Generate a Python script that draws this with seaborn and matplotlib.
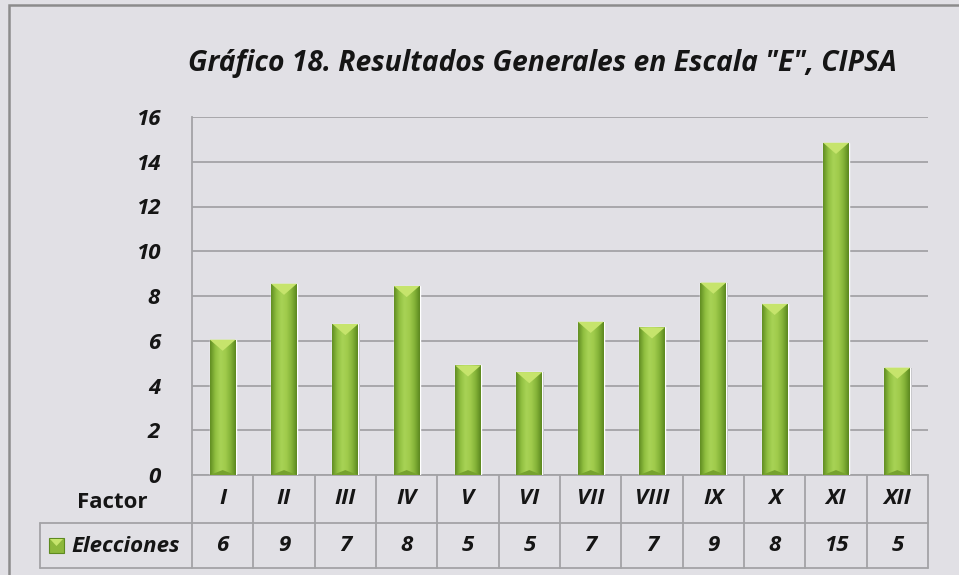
import numpy as np
import pandas as pd
import matplotlib
matplotlib.use("Agg")
import matplotlib.pyplot as plt
import seaborn as sns
from matplotlib.transforms import blended_transform_factory
from matplotlib.patches import Polygon, Rectangle
from matplotlib.colors import LinearSegmentedColormap

# DATA
factores = ["I", "II", "III", "IV", "V", "VI", "VII", "VIII", "IX", "X", "XI", "XII"]
elecciones = [6.05, 8.55, 6.75, 8.45, 4.9, 4.6, 6.85, 6.6, 8.6, 7.65, 14.85, 4.8]
tabla_valores = ["6", "9", "7", "8", "5", "5", "7", "7", "9", "8", "15", "5"]
titulo = 'Gráfico 18. Resultados Generales en Escala "E", CIPSA'

BG = '#E1E0E5'
GRID = '#A3A3A6'
INK = '#151515'
W, H = 959, 575
FS = 16

sns.set_style("white")
plt.rcParams['font.family'] = ['Open Sans', 'DejaVu Sans']

fig = plt.figure(figsize=(W / 100, H / 100), dpi=100, facecolor=BG)
ax = fig.add_axes([192 / W, 100 / H, 736 / W, 358 / H])
ax.set_facecolor(BG)

df = pd.DataFrame({'Factor': factores, 'Elecciones': elecciones})
sns.barplot(data=df, x='Factor', y='Elecciones', color='#8DB83C', width=0.42,
            saturation=1, ax=ax, zorder=3)

# bar shading (gradient + bevels)
cmap = LinearSegmentedColormap.from_list(
    'verde', ['#618D22', '#90BF40', '#A8D356', '#A0CB4C', '#84B338', '#5C881F'])
grad = np.linspace(0, 1, 64).reshape(1, -1)
for p in list(ax.patches):
    x, w, h = p.get_x(), p.get_width(), p.get_height()
    im = ax.imshow(grad, extent=[x, x + w, 0, h], aspect='auto', cmap=cmap,
                   zorder=4, interpolation='bicubic')
    im.set_clip_path(p)
    ax.add_patch(Polygon([[x, h], [x + w, h], [x + w * 0.5, h - 0.5]],
                         closed=True, facecolor='#C6E46C', edgecolor='none', zorder=5))
    ax.add_patch(Polygon([[x, 0], [x + w, 0], [x + w * 0.5, 0.22]],
                         closed=True, facecolor='#76A22E', edgecolor='none', zorder=5))
    ax.add_patch(Rectangle((x + w, 0), w * 0.06, h, facecolor='#BDBDC1',
                           edgecolor='none', zorder=2))

ax.set_xlim(-0.5, 11.5)
ax.set_ylim(0, 16)
ax.set_yticks(range(0, 17, 2))
ax.yaxis.grid(True, color=GRID, lw=1.3)
ax.set_axisbelow(True)
for s in ['top', 'right', 'bottom']:
    ax.spines[s].set_visible(False)
ax.spines['left'].set_color(GRID)
ax.spines['left'].set_linewidth(1.3)
ax.set_xticks([])
ax.set_xlabel('')
ax.set_ylabel('')
ax.tick_params(axis='y', length=0, pad=23, labelsize=FS)
for t in ax.get_yticklabels():
    t.set_fontweight('bold')
    t.set_fontstyle('italic')
    t.set_color(INK)

# data table
trans = blended_transform_factory(ax.transData, ax.transAxes)
r1 = 48 / 358
r2 = 93 / 358
for i in range(len(factores) + 1):
    ax.plot([i - 0.5, i - 0.5], [0, -r2], transform=trans, color=GRID, lw=1.3,
            clip_on=False)
ax.plot([-0.5, 11.5], [0, 0], transform=trans, color=GRID, lw=1.3, clip_on=False)
for yy in [(100 - 48) / H, (100 - 93) / H]:
    fig.add_artist(plt.Line2D([40 / W, 928 / W], [yy, yy], transform=fig.transFigure,
                              color=GRID, lw=1.3))
fig.add_artist(plt.Line2D([40 / W, 40 / W], [(100 - 48) / H, (100 - 93) / H],
                          transform=fig.transFigure, color=GRID, lw=1.3))

for i, (f, v) in enumerate(zip(factores, tabla_valores)):
    ax.text(i, -r1 / 2, f, transform=trans, ha='center', va='center', fontsize=FS,
            fontweight='bold', fontstyle='italic', color=INK)
    ax.text(i, -(r1 + r2) / 2, v, transform=trans, ha='center', va='center',
            fontsize=FS, fontweight='bold', fontstyle='italic', color=INK)

fig.text(112 / W, (575 - 503) / H, 'Factor', ha='center', va='center', fontsize=FS,
         fontweight='bold', color=INK)
fig.text(71 / W, (575 - 546) / H, 'Elecciones', ha='left', va='center', fontsize=FS,
         fontweight='bold', fontstyle='italic', color=INK)
fig.add_artist(Rectangle((49 / W, (575 - 553) / H), 15 / W, 15 / H,
                         transform=fig.transFigure, facecolor='#8DB83C',
                         edgecolor='#5E8A20', lw=0.8))
fig.add_artist(Polygon([[50 / W, (575 - 539) / H], [63 / W, (575 - 539) / H],
                        [56.5 / W, (575 - 546) / H]], closed=True,
                       transform=fig.transFigure, facecolor='#C6E46C', edgecolor='none'))

# title
fig.text(542 / W, (575 - 64) / H, titulo, ha='center', va='center', fontsize=20.3,
         fontweight='bold', fontstyle='italic', color=INK)

# outer frame
fig.add_artist(Rectangle((9 / W, -0.1), 1.0, (575 - 5) / H + 0.1,
                         transform=fig.transFigure, fill=False,
                         edgecolor='#8C8C8C', lw=1.8))

fig.savefig('out.png', dpi=100, facecolor=BG)
